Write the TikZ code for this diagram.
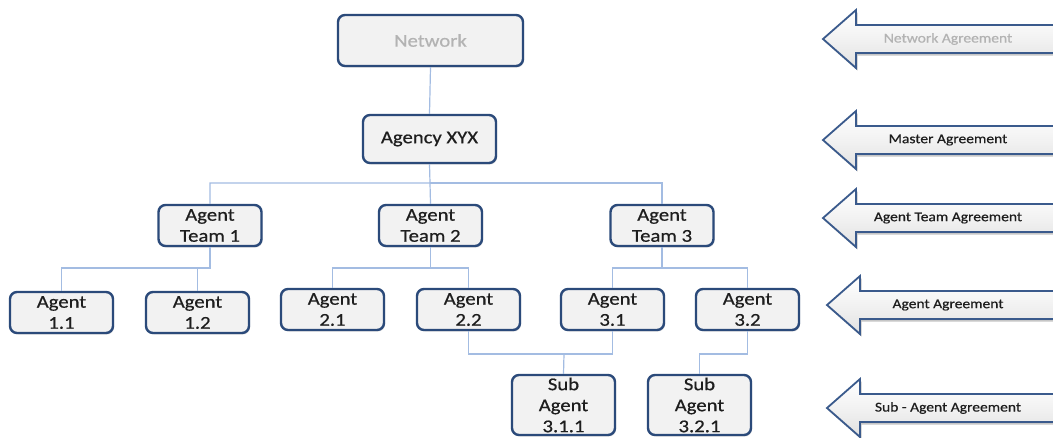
\documentclass[tikz,border=0pt]{standalone}
\usepackage{fontspec}
\usetikzlibrary{shadows}
\newfontfamily\boxfont[FakeStretch=1.15,FakeBold=0.6]{Carlito}
\definecolor{navy}{HTML}{2B4A7A}
\definecolor{boxfill}{HTML}{F2F2F2}
\definecolor{boxtext}{HTML}{1E1E1E}
\definecolor{greytext}{HTML}{B3B3B3}
\definecolor{connblue}{HTML}{A3BCE2}
\definecolor{arrowline}{HTML}{3A5A8C}
\newcommand\agreearrow[5]{%
  \fill[gray!45] (1053,{#2-14+2.5}) -- ({#3+33+1.5},{#2-14+2.5}) -- ({#3+33+1.5},{#2-29+2.5}) -- ({#3+1.5},{#2+2.5}) -- ({#3+33+1.5},{#2+29+2.5}) -- ({#3+33+1.5},{#2+14+2.5}) -- (1053,{#2+14+2.5}) -- cycle;
  \fill[top color=white, bottom color=boxfill!85!gray, middle color=boxfill] (1053,{#2-14}) -- ({#3+33},{#2-14}) -- ({#3+33},{#2-29}) -- (#3,#2) -- ({#3+33},{#2+29}) -- ({#3+33},{#2+14}) -- (1053,{#2+14}) -- cycle;
  \draw[arrowbd] (1053,{#2-14}) -- ({#3+33},{#2-14}) -- ({#3+33},{#2-29}) -- (#3,#2) -- ({#3+33},{#2+29}) -- ({#3+33},{#2+14}) -- (1053,{#2+14});
  \node[arrowtext, text=#5] (#1) at (948,#2) {#4};%
}
\begin{document}
\begin{tikzpicture}[x=1pt,y=-1pt,
  box/.style={draw=navy, line width=2.4pt, rounded corners=7pt, fill=boxfill,
    text=boxtext, font=\boxfont\fontsize{18}{21}\selectfont, align=center,
    inner sep=0pt, minimum width=103pt, minimum height=41pt,
    drop shadow={opacity=0.25, shadow xshift=1pt, shadow yshift=-1.5pt}},
  conn/.style={draw=connblue, line width=1.2pt},
  arrowbd/.style={draw=arrowline, line width=1.8pt, line join=miter},
  arrowtext/.style={font=\boxfont\fontsize{13.5}{16}\selectfont, inner sep=0pt},
]
\useasboundingbox (0,0) rectangle (1053,437);
\fill[white] (0,0) rectangle (1053,437);

% nodes
\node[box, minimum width=185pt, minimum height=51pt, text=greytext] (net) at (430.5,40.5) {Network};
\node[box, minimum width=133pt, minimum height=48pt] (agency) at (429.5,139) {Agency XYX};
\node[box] (t1) at (210,225.5) {Agent\\Team 1};
\node[box] (t2) at (430.5,225.5) {Agent\\Team 2};
\node[box] (t3) at (662,225.5) {Agent\\Team 3};
\node[box] (a11) at (61.5,312.5) {Agent\\1.1};
\node[box] (a12) at (197.5,312.5) {Agent\\1.2};
\node[box] (a21) at (332.5,309.5) {Agent\\2.1};
\node[box] (a22) at (468.5,309.5) {Agent\\2.2};
\node[box] (a31) at (612.5,309.5) {Agent\\3.1};
\node[box] (a32) at (747.5,309.5) {Agent\\3.2};
\node[box, minimum height=60pt] (s311) at (563.5,405) {Sub\\Agent\\3.1.1};
\node[box, minimum height=60pt] (s321) at (699.5,405) {Sub\\Agent\\3.2.1};

% junctions
\coordinate (j0) at (430,183);
\coordinate (j1) at (210,268);
\coordinate (j2) at (430.5,268);
\coordinate (j3) at (662,268);
\coordinate (j4) at (564,354);
\coordinate (j5) at (747.5,354);

% connectors
\draw[conn] (net.south) -- (agency.north);
\draw[conn] (agency.south) -- (j0) -| (t1.north);
\draw[conn] (j0) -| (t3.north);
\draw[conn] (j0) -- (t2.north);
\draw[conn] (t1.south) -- (j1) -| (a11.north);
\draw[conn] (j1) -| (a12.north);
\draw[conn] (t2.south) -- (j2) -| (a21.north);
\draw[conn] (j2) -| (a22.north);
\draw[conn] (t3.south) -- (j3) -| (a31.north);
\draw[conn] (j3) -| (a32.north);
\draw[conn] (a22.south) |- (j4) -| (a31.south);
\draw[conn] (j4) -- (s311.north);
\draw[conn] (a32.south) -- (j5) -| (s321.north);

% agreement arrows
\agreearrow{ag1}{39}{823}{Network Agreement}{greytext}
\agreearrow{ag2}{140}{823}{Master Agreement}{boxtext}
\agreearrow{ag3}{218}{823}{Agent Team Agreement}{boxtext}
\agreearrow{ag4}{305}{827}{Agent Agreement}{boxtext}
\agreearrow{ag5}{408}{827}{Sub - Agent Agreement}{boxtext}
\end{tikzpicture}
\end{document}
